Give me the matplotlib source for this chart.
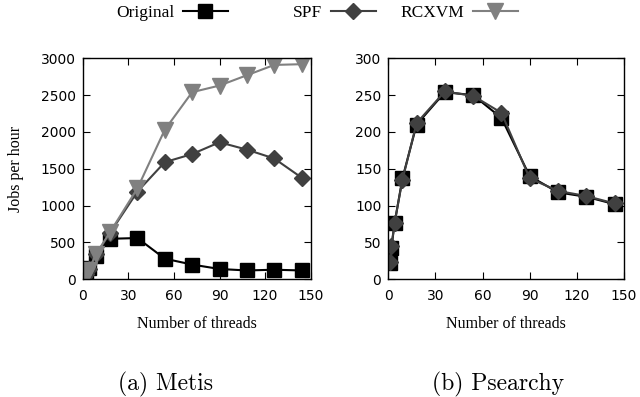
import matplotlib
matplotlib.use('Agg')
import matplotlib.pyplot as plt
from matplotlib.lines import Line2D

# Jobs per hour vs number of threads for Metis and Psearchy

threads = [1, 2, 4, 9, 18, 36, 54, 72, 90, 108, 126, 144]

metis_original = [40, 80, 150, 320, 550, 560, 280, 200, 140, 120, 130, 120]
metis_spf = [30, 70, 140, 340, 630, 1190, 1590, 1700, 1860, 1760, 1640, 1380]
metis_rcxvm = [20, 60, 130, 350, 640, 1235, 2030, 2540, 2630, 2770, 2910, 2920]

psearchy_original = [22, 43, 76, 137, 210, 254, 250, 219, 140, 118, 112, 102]
psearchy_spf = [23, 45, 77, 135, 212, 255, 249, 226, 137, 120, 113, 103]

c_orig = 'black'
c_spf = '#404040'
c_rcx = '#808080'
serif = 'Liberation Serif'
ms_sq, ms_d, ms_v = 9.4, 8.5, 11.5

fig = plt.figure(figsize=(6.4, 3.97), dpi=100)
W, H = 640.0, 397.0
ax1 = fig.add_axes([82.7 / W, (H - 279.3) / H, 228 / W, 221 / H])
ax2 = fig.add_axes([388.3 / W, (H - 279.3) / H, 235.7 / W, 221 / H])

ax1.plot(threads, metis_original, color=c_orig, marker='s', markersize=ms_sq, lw=1.5)
ax1.plot(threads, metis_spf, color=c_spf, marker='D', markersize=ms_d, lw=1.5)
ax1.plot(threads, metis_rcxvm, color=c_rcx, marker='v', markersize=ms_v, lw=1.5)

ax2.plot(threads, psearchy_original, color=c_orig, marker='s', markersize=ms_sq, lw=1.5)
ax2.plot(threads, psearchy_spf, color=c_spf, marker='D', markersize=ms_d, lw=1.5)

ax1.set_ylim(0, 3000)
ax1.set_yticks(range(0, 3001, 500))
ax2.set_ylim(0, 300)
ax2.set_yticks(range(0, 301, 50))
for ax in (ax1, ax2):
    ax.set_xlim(0, 150)
    ax.set_xticks(range(0, 151, 30))
    ax.tick_params(direction='in', top=True, right=True, length=5, width=0.8,
                   labelsize=10)
    ax.tick_params(axis='x', pad=7)
    ax.tick_params(axis='y', pad=5)
    for s in ax.spines.values():
        s.set_linewidth(1.0)
    ax.set_xlabel('Number of threads', family=serif, fontsize=11.5, labelpad=9)

ax1.set_ylabel('Jobs per hour', family=serif, fontsize=11.5, labelpad=12)

fig.text(165 / W, 1 - 384 / H, '(a) Metis', family='cmr10', fontsize=17,
         ha='center', va='center')
fig.text(498 / W, 1 - 384 / H, '(b) Psearchy', family='cmr10', fontsize=17,
         ha='center', va='center')

# legend entries, text on the left of the line sample
entries = [('Original', c_orig, 's', ms_sq, 228),
           ('SPF', c_spf, 'D', ms_d, 376),
           ('RCXVM', c_rcx, 'v', ms_v, 518)]
for label, col, mk, ms, xr in entries:
    h = Line2D([], [], color=col, marker=mk, markersize=ms, lw=1.5)
    fig.legend([h], [label], loc='center right',
               bbox_to_anchor=(xr / W, 1 - 13 / H), frameon=False,
               markerfirst=False, handlelength=2.6, handletextpad=0.5,
               borderpad=0, borderaxespad=0,
               prop={'family': serif, 'size': 12.5})

fig.savefig('out.png', dpi=100)
